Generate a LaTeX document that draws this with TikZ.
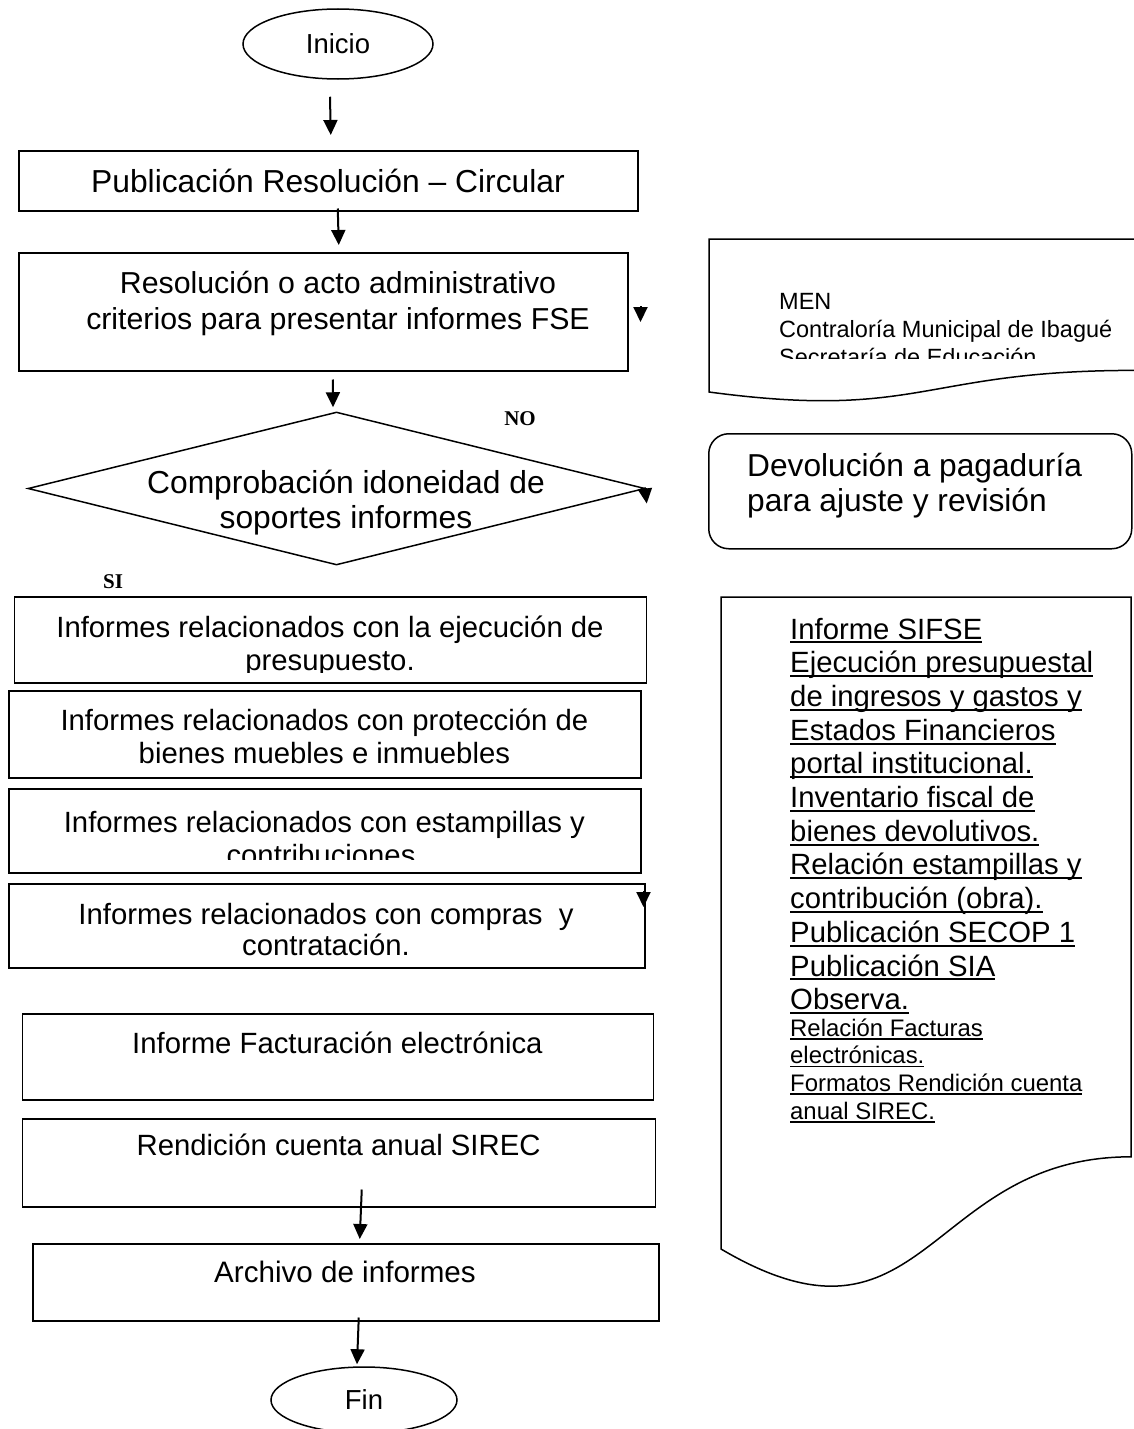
\documentclass[tikz,border=0pt]{standalone}
\usepackage{fontspec}
\setmainfont{Liberation Sans}
\newfontfamily\serifbold{Liberation Serif}
\usetikzlibrary{arrows.meta,shapes.geometric,calc}
\newcommand\fsz[2]{\fontsize{#1}{#2}\selectfont}
\newcommand\ulbig[1]{\setbox0\hbox{#1}\rlap{\rule[-4.4pt]{\wd0}{2pt}}\box0}
\newcommand\ulsmall[1]{\setbox0\hbox{#1}\rlap{\rule[-3.6pt]{\wd0}{1.6pt}}\box0}
\tikzset{
  shapeline/.style={draw=black, line width=1.5pt},
  boxn/.style={shapeline, rectangle, inner sep=0pt, anchor=north west},
  termn/.style={shapeline, ellipse, inner sep=0pt, font=\fsz{27.5}{30}},
  arr/.style={line width=2pt, -{Triangle[width=14pt,length=15pt]}},
  lbl/.style={inner sep=0pt, anchor=base},
  lblw/.style={inner sep=0pt, anchor=base west},
  fbig/.style={font=\fsz{31.8}{35}},
  fmid/.style={font=\fsz{30.3}{34}},
  fstd/.style={font=\fsz{29.3}{33}},
  fright/.style={font=\fsz{23.5}{27}},
  fdev/.style={font=\fsz{31.7}{35}},
  fdoc/.style={font=\fsz{29.3}{33}},
  fdocs/.style={font=\fsz{23.9}{27}},
  yesno/.style={inner sep=0pt, anchor=base, font=\serifbold\bfseries\fsz{21}{24}}
}
\begin{document}
\begin{tikzpicture}[x=1pt,y=-1pt]
\fill[white] (0,0) rectangle (1133,1429);
\useasboundingbox (0,0) rectangle (1133,1429);

% ---------- main column ----------
\node[termn, minimum width=190, minimum height=70] (ini) at (338,44) {Inicio};

\node[boxn, minimum width=619, minimum height=60] (pub) at (18,150) {};
\node[lbl, fbig] (pubt) at (328,192) {Publicación Resolución – Circular};

\node[boxn, minimum width=609, minimum height=118] (res) at (18,252) {};
\node[lbl, fmid] (rest1) at (338,293) {Resolución o acto administrativo};
\node[lbl, fmid] (rest2) at (338,329) {criterios para presentar informes FSE};

\node[diamond, shapeline, inner sep=0pt, minimum width=617, minimum height=153] (comp) at (336.5,488.5) {};
\node[lbl, fbig] (compt1) at (346,493) {Comprobación idoneidad de};
\node[lbl, fbig] (compt2) at (346,528) {soportes informes};

\node[yesno] (no) at (520,425) {NO};
\node[yesno] (si) at (113,588) {SI};

\node[boxn, minimum width=632, minimum height=86] (ejec) at (13.5,596) {};
\node[lbl, fstd] (eject1) at (330,637) {Informes relacionados con la ejecución de};
\begin{scope}
  \clip (0,600) rectangle (700,672);
  \node[lbl, fstd] (eject2) at (330,670) {presupuesto.};
\end{scope}

\node[boxn, minimum width=632, minimum height=87] (prot) at (8,690) {};
\node[lbl, fstd] (prott1) at (324.4,730) {Informes relacionados con protección de};
\node[lbl, fstd] (prott2) at (324.4,763) {bienes muebles e inmuebles};

\node[boxn, minimum width=632, minimum height=84] (est) at (8,788) {};
\node[lbl, fstd] (estt1) at (324.4,832) {Informes relacionados con estampillas y};
\begin{scope}
  \clip (0,840) rectangle (700,859);
  \node[lbl, fstd] (estt2) at (321,865) {contribuciones};
\end{scope}

\node[boxn, minimum width=636, minimum height=84] (cmp) at (8,883) {};
\node[lbl, fstd] (cmpt1) at (326,924) {Informes relacionados con compras\ \ y};
\node[lbl, fstd] (cmpt2) at (326,955) {contratación.};

\node[boxn, minimum width=631, minimum height=86] (fact) at (21.5,1013) {};
\node[lbl, fstd] (factt) at (337.4,1053) {Informe Facturación electrónica};

\node[boxn, minimum width=633, minimum height=88] (rend) at (21.5,1118) {};
\node[lbl, fstd] (rendt) at (338.6,1155) {Rendición cuenta anual SIREC};

\node[boxn, minimum width=626, minimum height=77] (arch) at (32,1243) {};
\node[lbl, font=\fsz{29.6}{33}] (archt) at (345,1282) {Archivo de informes};

\node[termn, minimum width=186, minimum height=66] (fin) at (364,1400) {Fin};

% ---------- connectors ----------
\draw[arr] ($(ini.south)+(-8,17)$) -- ($(pub.north)+(2.5,-15)$);
\draw[arr] ($(pub.south)+(9.5,-3)$) -- ($(res.north)+(15.5,-7)$);
\draw[arr] ($(res.south)+(9.5,8)$) -- ($(comp.north)+(-3.5,-4)$);
\draw[arr] ($(rend.south)+(23,-18)$) -- ($(arch.north)+(14,-4)$);
\draw[arr] ($(arch.south)+(13,-4)$) -- ($(fin.north)+(-7,-2)$);
% stray arrow heads
\draw[arr] ($(res.north east)+(12,54)$) -- ($(res.north east)+(12,70)$);
\draw[arr] ($(comp.east)+(-1,-1)$) -- ($(comp.east)+(1,15)$);
\draw[arr] ($(cmp.north east)+(-2,8)$) -- ($(cmp.north east)+(-2,24)$);

% ---------- right column ----------
% document shape (its right side lies beyond the border)
\draw[shapeline] (1134,370.4) .. controls (921,370.4) and (921,420.4) .. (709,392)
  -- (709,239) -- (1134,239);
\node[lblw, fright] (men1) at (779,309) {MEN};
\node[lblw, fright] (men2) at (779,337) {Contraloría Municipal de Ibagué};
\begin{scope}
  \clip (700,340) rectangle (1133,358);
  \node[lblw, fright] (men3) at (779,365) {Secretaría de Educación};
\end{scope}

\node[boxn, rounded corners=20pt, minimum width=423, minimum height=115] (dev) at (708,433) {};
\node[lblw, fdev] (devt1) at (747,476) {Devolución a pagaduría};
\node[lblw, fdev] (devt2) at (747,511) {para ajuste y revisión};

\draw[shapeline] (721,597) -- (1131,597) -- (1131,1156.8)
  .. controls (926,1156.8) and (926,1370) .. (721,1249) -- cycle;
\foreach \t [count=\i from 0] in {Informe SIFSE, Ejecución presupuestal, de ingresos y gastos y, Estados Financieros, portal institucional., Inventario fiscal de, bienes devolutivos., Relación estampillas y, contribución (obra)., Publicación SECOP 1, Publicación SIA, Observa.}
  \node[lblw, fdoc] (big\i) at (790,{639+33.7*\i}) {\ulbig{\t}};
\foreach \t [count=\i from 0] in {Relación Facturas, electrónicas., Formatos Rendición cuenta, anual SIREC.}
  \node[lblw, fdocs] (small\i) at (790,{1036+27.7*\i}) {\ulsmall{\t}};
\end{tikzpicture}
\end{document}
